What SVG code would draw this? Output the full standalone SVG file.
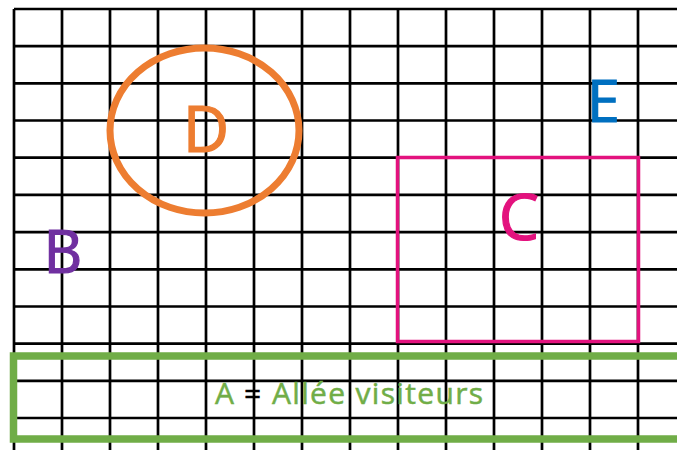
<svg xmlns="http://www.w3.org/2000/svg" width="677" height="450" viewBox="0 0 677 450">
<style>
.g{stroke:#000;stroke-width:2.7;fill:none}
.lbl{font-family:"Open Sans","Liberation Sans",sans-serif;text-anchor:middle;stroke-width:1.2}
</style>
<rect width="677" height="450" fill="#fff"/>
<g id="grid" class="g">
<path d="M14 9H677M14 46.2H677M14 83.4H677M14 120.5H677M14 157.7H677M14 194.9H677M14 232.1H677M14 269.3H677M14 306.5H677M14 343.6H677M14 380.8H677M14 418H677"/>
<path d="M14 9V450M62 9V450M110 9V450M158 9V450M206 9V450M254 9V450M302 9V450M350 9V450M398 9V450M446 9V450M494 9V450M542 9V450M590 9V450M638 9V450"/>
</g>
<g id="D">
<ellipse cx="204.5" cy="130.5" rx="94.5" ry="82.5" fill="none" stroke="#ED7D31" stroke-width="7"/>
<text class="lbl" x="206" y="152" font-size="64" fill="#ED7D31" stroke="#ED7D31">D</text>
</g>
<g id="C">
<rect x="397.5" y="157.5" width="241" height="184" fill="none" stroke="#E3127E" stroke-width="3.5"/>
<text class="lbl" x="519" y="240" font-size="64" fill="#E3127E" stroke="#E3127E">C</text>
</g>
<g id="B">
<text class="lbl" x="63" y="273" font-size="60" fill="#7030A0" stroke="#7030A0">B</text>
</g>
<g id="E">
<text class="lbl" x="603.5" y="122" font-size="59" fill="#0070C0" stroke="#0070C0">E</text>
</g>
<g id="A">
<path d="M690 356H13.5V439H690" fill="none" stroke="#70AD47" stroke-width="7.5"/>
<text font-family="Open Sans,Liberation Sans,sans-serif" font-size="30" y="404" fill="#70AD47" stroke-width="0.5"><tspan x="215" stroke="#70AD47">A</tspan><tspan x="244" fill="#000" stroke="#000">=</tspan><tspan x="272" stroke="#70AD47" textLength="211" lengthAdjust="spacing">Allée visiteurs</tspan></text>
</g>
</svg>
